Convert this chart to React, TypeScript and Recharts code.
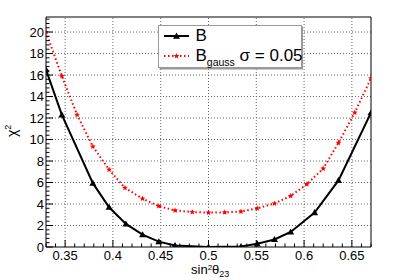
import React from "react";
import { LineChart, Line, XAxis, YAxis, ReferenceLine, Legend, Label } from "recharts";

// ---- data ----
const bX = [0.33, 0.3466, 0.379, 0.396, 0.4136, 0.431, 0.448, 0.465, 0.5, 0.534, 0.551, 0.569, 0.586, 0.611, 0.636, 0.67];
const bY = [16.5, 12.3, 5.94, 3.7, 2.15, 1.15, 0.5, 0.15, 0.0, 0.05, 0.3, 0.7, 1.4, 3.2, 6.2, 12.5];

const gX = [0.33, 0.3466, 0.3625, 0.379, 0.396, 0.4126, 0.431, 0.448, 0.465, 0.483, 0.5, 0.517, 0.534, 0.551, 0.569, 0.586, 0.603, 0.62, 0.636, 0.653, 0.67];
const gY = [20.0, 15.9, 12.3, 9.35, 7.2, 5.5, 4.5, 3.8, 3.4, 3.25, 3.2, 3.22, 3.3, 3.6, 4.05, 4.75, 5.85, 7.3, 9.7, 12.5, 15.7];

const xMajor = [0.35, 0.4, 0.45, 0.5, 0.55, 0.6, 0.65];
const xTicks = [0.33, 0.34, 0.35, 0.36, 0.37, 0.38, 0.39, 0.4, 0.41, 0.42, 0.43, 0.44, 0.45, 0.46, 0.47, 0.48, 0.49, 0.5, 0.51, 0.52, 0.53, 0.54, 0.55, 0.56, 0.57, 0.58, 0.59, 0.6, 0.61, 0.62, 0.63, 0.64, 0.65, 0.66, 0.67];
const yMajor = [0, 2, 4, 6, 8, 10, 12, 14, 16, 18, 20];
const yTicks = [0, 0.4, 0.8, 1.2, 1.6, 2, 2.4, 2.8, 3.2, 3.6, 4, 4.4, 4.8, 5.2, 5.6, 6, 6.4, 6.8, 7.2, 7.6, 8, 8.4, 8.8, 9.2, 9.6, 10, 10.4, 10.8, 11.2, 11.6, 12, 12.4, 12.8, 13.2, 13.6, 14, 14.4, 14.8, 15.2, 15.6, 16, 16.4, 16.8, 17.2, 17.6, 18, 18.4, 18.8, 19.2, 19.6, 20, 20.4, 20.8, 21.2];

const xDomain = [0.33, 0.67];
const yDomain = [0, 21.4];

const seriesB = bX.map((x, i) => ({ x, y: bY[i] }));
const seriesG = gX.map((x, i) => ({ x, y: gY[i] }));

const FONT = "'Liberation Sans', Arial, Helvetica, sans-serif";
const RED = "#ff0000";
const GRID = "#666";

const isMajor = (v: number, list: number[]) => list.some((m) => Math.abs(m - v) < 1e-6);

const XTick = (props: any) => {
  const { x, y, payload } = props;
  const v = payload.value;
  const major = isMajor(v, xMajor);
  return (
    <g>
      <line x1={x} x2={x} y1={y} y2={y - (major ? 7 : 3.5)} stroke="#000" strokeWidth={1} />
      {major && (
        <text x={x} y={y + 12.5} textAnchor="middle" fontSize={13} fontFamily={FONT} fill="#000">
          {String(v)}
        </text>
      )}
    </g>
  );
};

const YTick = (props: any) => {
  const { x, y, payload } = props;
  const v = payload.value;
  const major = isMajor(v, yMajor);
  return (
    <g>
      <line x1={x} x2={x + (major ? 7 : 3.5)} y1={y} y2={y} stroke="#000" strokeWidth={1} />
      {major && (
        <text x={x - 2} y={y + 4.6} textAnchor="end" fontSize={13} fontFamily={FONT} fill="#000">
          {String(v)}
        </text>
      )}
    </g>
  );
};

const triPoints = (cx: number, cy: number, r: number) =>
  `${cx},${cy - r} ${cx - r},${cy + r * 0.75} ${cx + r},${cy + r * 0.75}`;

const starPoints = (cx: number, cy: number, R: number) => {
  const pts: string[] = [];
  for (let i = 0; i < 10; i++) {
    const r = i % 2 === 0 ? R : R * 0.45;
    const a = -Math.PI / 2 + (i * Math.PI) / 5;
    pts.push(`${cx + r * Math.cos(a)},${cy + r * Math.sin(a)}`);
  }
  return pts.join(" ");
};

const TriDot = (props: any) => {
  const { cx, cy, index } = props;
  if (cx == null || cy == null) return <g key={`t-${index}`} />;
  return <polygon key={`t-${index}`} points={triPoints(cx, cy, 3.5)} fill="#000" />;
};

const StarDot = (props: any) => {
  const { cx, cy, index } = props;
  if (cx == null || cy == null) return <g key={`s-${index}`} />;
  return <polygon key={`s-${index}`} points={starPoints(cx, cy, 3)} fill={RED} />;
};

const LegendBox = () => (
  <svg width={148} height={48} style={{ display: "block", overflow: "visible" }}>
    <rect x={0.5} y={0.5} width={143} height={42} fill="#fff" stroke="#999" strokeWidth={1} />
    <line x1={144} x2={144} y1={1.5} y2={44} stroke="#999" strokeWidth={2} />
    <line x1={1.5} x2={145} y1={43.5} y2={43.5} stroke="#999" strokeWidth={2} />
    <line x1={6} x2={31} y1={11} y2={11} stroke="#000" strokeWidth={2} />
    <polygon points={triPoints(18.5, 11, 3.5)} fill="#000" />
    <text x={37.5} y={16} fontSize={17} fontFamily={FONT} fill="#000">B</text>
    <line x1={6} x2={31} y1={31} y2={31} stroke={RED} strokeWidth={2} strokeDasharray="1.5 2.5" />
    <polygon points={starPoints(18.5, 31, 3)} fill={RED} />
    <text x={37.5} y={36} fontSize={17} fontFamily={FONT} fill="#000">
      B
      <tspan dy={5} fontSize={10.5}>gauss</tspan>
      <tspan dy={-5} fontSize={17}>{" \u03c3 = 0.05"}</tspan>
    </text>
  </svg>
);

const XLabel = (props: any) => {
  const x0 = 191;
  const y0 = 274;
  return (
    <text x={x0} y={y0} fontSize={13} fontFamily={FONT} fill="#000">
      sin
      <tspan dy={-4} fontSize={8}>2</tspan>
      <tspan dy={4} fontSize={13}>{"\u03b8"}</tspan>
      <tspan dy={3} fontSize={9}>23</tspan>
    </text>
  );
};

const YLabel = (props: any) => {
  const x0 = 17;
  const y0 = 137;
  return (
    <text transform={`translate(${x0},${y0}) rotate(-90)`} fontSize={14} fontFamily={FONT} fill="#000">
      {"\u03c7"}
      <tspan dy={-6} fontSize={9}>2</tspan>
    </text>
  );
};

export default function App() {
  return (
    <div style={{ position: "fixed", left: 0, top: 0, width: 407, height: 280, background: "#fff" }}>
      <LineChart width={407} height={280} margin={{ top: 17, right: 36, bottom: 3, left: 6 }}>
        {yMajor.filter((v) => v > 0).map((v) => (
          <ReferenceLine key={`gy-${v}`} y={v} stroke={GRID} strokeWidth={1} strokeDasharray="1 2" />
        ))}
        {xMajor.map((v) => (
          <ReferenceLine key={`gx-${v}`} x={v} stroke={GRID} strokeWidth={1} strokeDasharray="1 2" />
        ))}
        <XAxis
          dataKey="x"
          type="number"
          domain={xDomain}
          ticks={xTicks}
          interval={0}
          allowDataOverflow
          height={30}
          tickSize={0}
          tickMargin={0}
          tickLine={false}
          tick={<XTick />}
          axisLine={{ stroke: "#000", strokeWidth: 1 }}
        >
          <Label content={<XLabel />} />
        </XAxis>
        <YAxis
          type="number"
          domain={yDomain}
          ticks={yTicks}
          interval={0}
          allowDataOverflow
          width={40}
          tickSize={0}
          tickMargin={0}
          tickLine={false}
          tick={<YTick />}
          axisLine={{ stroke: "#000", strokeWidth: 1 }}
        >
          <Label content={<YLabel />} />
        </YAxis>
        <ReferenceLine y={21.4} stroke="#000" strokeWidth={1} />
        <ReferenceLine x={0.67} stroke="#000" strokeWidth={1} />
        <Line
          data={seriesG}
          dataKey="y"
          type="linear"
          stroke={RED}
          strokeWidth={2}
          strokeDasharray="1.5 2.5"
          dot={(p: any) => <StarDot {...p} />}
          activeDot={false}
          isAnimationActive={false}
        />
        <Line
          data={seriesB}
          dataKey="y"
          type="linear"
          stroke="#000"
          strokeWidth={2}
          dot={(p: any) => <TriDot {...p} />}
          activeDot={false}
          isAnimationActive={false}
        />
        <Legend
          layout="vertical"
          align="center"
          verticalAlign="middle"
          wrapperStyle={{ position: "absolute", left: 158, top: 25, width: 148, height: 48 }}
          content={() => <LegendBox />}
        />
      </LineChart>
    </div>
  );
}
